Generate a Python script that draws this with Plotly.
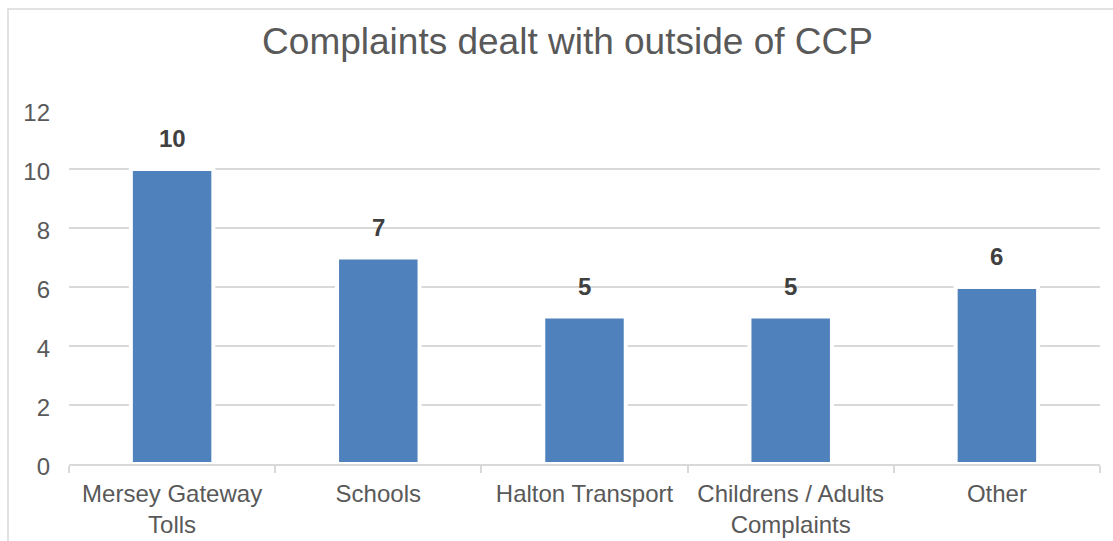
import plotly.graph_objects as go

categories = ["Mersey Gateway<br>Tolls", "Schools", "Halton Transport", "Childrens / Adults<br>Complaints", "Other"]
values = [10, 7, 5, 5, 6]
y_ticks = [0, 2, 4, 6, 8, 10, 12]

W, H = 1113, 541
L, R, T, B = 69, 13, 110, 77
pw, ph = W - L - R, H - T - B

fig = go.Figure()
fig.add_trace(go.Bar(
    x=categories, y=values,
    marker=dict(color="#4F81BD", line=dict(color="white", width=4)),
    width=0.40,
    hoverinfo="skip",
))

for c, v in zip(categories, values):
    fig.add_annotation(x=c, y=v, text=f"<b>{v}</b>", showarrow=False,
                       yanchor="bottom", yshift=15,
                       font=dict(family="Liberation Sans, Arial", size=24, color="#404040"))

# outer chart border
fig.add_shape(type="rect", xref="paper", yref="paper",
              x0=(8 - L) / pw, x1=(W + 20 - L) / pw,
              y0=-(B + 20) / ph, y1=(H - B - 9) / ph,
              line=dict(color="#d9d9d9", width=1.5), layer="below")

fig.update_layout(
    width=W, height=H,
    margin=dict(l=L, r=R, t=T, b=B, autoexpand=False),
    paper_bgcolor="white", plot_bgcolor="white",
    showlegend=False,
    title=dict(text="Complaints dealt with outside of CCP", x=567.5 / W, xanchor="center",
               y=1 - 41 / H, yanchor="middle", xref="container", yref="container",
               font=dict(family="Liberation Sans, Arial", size=37, color="#595959")),
    font=dict(family="Liberation Sans, Arial", size=24, color="#595959"),
)
fig.update_yaxes(range=[0, 12], tickvals=y_ticks, showgrid=True, gridcolor="#d9d9d9", gridwidth=1.5,
                 zeroline=False, showline=False, ticklabelstandoff=18, ticklabelshift=3,
                 automargin=False,
                 tickfont=dict(size=24, color="#595959"))
fig.update_xaxes(showline=True, linecolor="#d9d9d9", linewidth=1.5, ticks="outside",
                 tickson="boundaries", ticklen=7, tickcolor="#d9d9d9", tickwidth=1.5,
                 ticklabelstandoff=7, automargin=False,
                 tickfont=dict(size=24, color="#595959"), showgrid=False)

fig.write_html("out.html")
